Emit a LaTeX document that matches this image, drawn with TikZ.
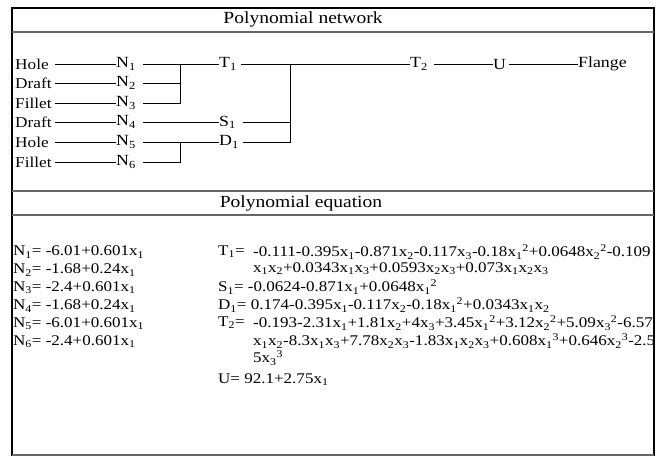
\documentclass[tikz,border=0pt]{standalone}
\usepackage{fontspec}
\setmainfont[FakeStretch=1.15]{Liberation Serif}
\newcommand{\sbs}[1]{\textsubscript{#1}}
\newcommand{\sps}[1]{\textsuperscript{#1}}
\tikzset{frame/.style = {line width=2.6pt, black},
         sep/.style = {line width=1.4pt, black!60},
         wire/.style = {line width=0.9pt},
         head/.style = {font=\fontsize{17}{19}\selectfont},
         inp/.style = {anchor=west, inner sep=0pt, text width=40pt, align=left, font=\fontsize{15}{17}\selectfont},
         nd/.style = {anchor=west, inner sep=0pt, text width=#1, align=left, font=\fontsize{15.5}{17}\selectfont},
         eq/.style = {anchor=west, inner sep=0pt, font=\fontsize{14.8}{16}\selectfont}}

\begin{document}
\begin{tikzpicture}[x=1pt,y=-1pt]
        \useasboundingbox (0,0) rectangle (657,456);
        \draw[frame](12,456)--(12,8)--(654,8)--(654,456);
        \draw[sep](12,455)--(654,455);
        \draw[sep](12,32)--(654,32);
        \draw[sep](12,191)--(654,191);
        \draw[sep](12,215)--(654,215);

        \node[head] (ttl1) at (303,19) {Polynomial network};
        \node[head] (ttl2) at (301,203) {Polynomial equation};

        \node[inp] (in1) at (15,64) {Hole};
        \node[inp] (in2) at (15,83) {Draft};
        \node[inp] (in3) at (15,103) {Fillet};
        \node[inp] (in4) at (15,122) {Draft};
        \node[inp] (in5) at (15,142) {Hole};
        \node[inp] (in6) at (15,162) {Fillet};

        \node[nd=27pt] (n1) at (116,64) {N\sbs{1}};
        \node[nd=27pt] (n2) at (116,83) {N\sbs{2}};
        \node[nd=27pt] (n3) at (116,103) {N\sbs{3}};
        \node[nd=27pt] (n4) at (116,122) {N\sbs{4}};
        \node[nd=27pt] (n5) at (116,142) {N\sbs{5}};
        \node[nd=27pt] (n6) at (116,162) {N\sbs{6}};

        \node[nd=22pt] (t1) at (219,64) {T\sbs{1}};
        \node[nd=24pt] (s1) at (219,122) {S\sbs{1}};
        \node[nd=24pt] (d1) at (219,142) {D\sbs{1}};
        \node[nd=24pt] (t2) at (410,64) {T\sbs{2}};
        \node[nd=16pt] (u) at (493,64) {U};
        \node[nd=55pt] (fl) at (578,64) {Flange};

        \coordinate (j1) at (180,64);
        \coordinate (j2) at (290,64);
        \coordinate (j3) at (180,142);

        \foreach \i in {1,...,6}
            \draw[wire](in\i.east)--(n\i.west);
        \draw[wire](n1.east)--(t1.west);
        \draw[wire](n2.east)--(n2.east -| j1);
        \draw[wire](n3.east)-|(j1);
        \draw[wire](n4.east)--(s1.west);
        \draw[wire](n5.east)--(d1.west);
        \draw[wire](n6.east)-|(j3);
        \draw[wire](t1.east)--(t2.west);
        \draw[wire](s1.east)--(s1.east -| j2);
        \draw[wire](d1.east)-|(j2);
        \draw[wire](t2.east)--(u.west);
        \draw[wire](u.east)--(fl.west);

        \node[eq] (en1) at (13,252) {N\sbs{1}= -6.01+0.601x\sbs{1}};
        \node[eq] (en2) at (13,270) {N\sbs{2}= -1.68+0.24x\sbs{1}};
        \node[eq] (en3) at (13,288) {N\sbs{3}= -2.4+0.601x\sbs{1}};
        \node[eq] (en4) at (13,306) {N\sbs{4}= -1.68+0.24x\sbs{1}};
        \node[eq] (en5) at (13,324) {N\sbs{5}= -6.01+0.601x\sbs{1}};
        \node[eq] (en6) at (13,342) {N\sbs{6}= -2.4+0.601x\sbs{1}};

        \node[eq] (et1) at (218,252) {T\sbs{1}=};
        \node[eq] (et1a) at (253,252) {-0.111-0.395x\sbs{1}-0.871x\sbs{2}-0.117x\sbs{3}-0.18x\sbs{1}\sps{2}+0.0648x\sbs{2}\sps{2}-0.109};
        \node[eq] (et1b) at (253,269) {x\sbs{1}x\sbs{2}+0.0343x\sbs{1}x\sbs{3}+0.0593x\sbs{2}x\sbs{3}+0.073x\sbs{1}x\sbs{2}x\sbs{3}};
        \node[eq] (es1) at (218,287) {S\sbs{1}= -0.0624-0.871x\sbs{1}+0.0648x\sbs{1}\sps{2}};
        \node[eq] (ed1) at (218,305) {D\sbs{1}= 0.174-0.395x\sbs{1}-0.117x\sbs{2}-0.18x\sbs{1}\sps{2}+0.0343x\sbs{1}x\sbs{2}};
        \node[eq] (et2) at (218,323) {T\sbs{2}=};
        \node[eq] (et2a) at (253,323) {-0.193-2.31x\sbs{1}+1.81x\sbs{2}+4x\sbs{3}+3.45x\sbs{1}\sps{2}+3.12x\sbs{2}\sps{2}+5.09x\sbs{3}\sps{2}-6.57};
        \node[eq] (et2b) at (253,341) {x\sbs{1}x\sbs{2}-8.3x\sbs{1}x\sbs{3}+7.78x\sbs{2}x\sbs{3}-1.83x\sbs{1}x\sbs{2}x\sbs{3}+0.608x\sbs{1}\sps{3}+0.646x\sbs{2}\sps{3}-2.5};
        \node[eq] (et2c) at (253,358) {5x\sbs{3}\sps{3}};
        \node[eq] (eu) at (218,380) {U= 92.1+2.75x\sbs{1}};
\end{tikzpicture}
\end{document}
